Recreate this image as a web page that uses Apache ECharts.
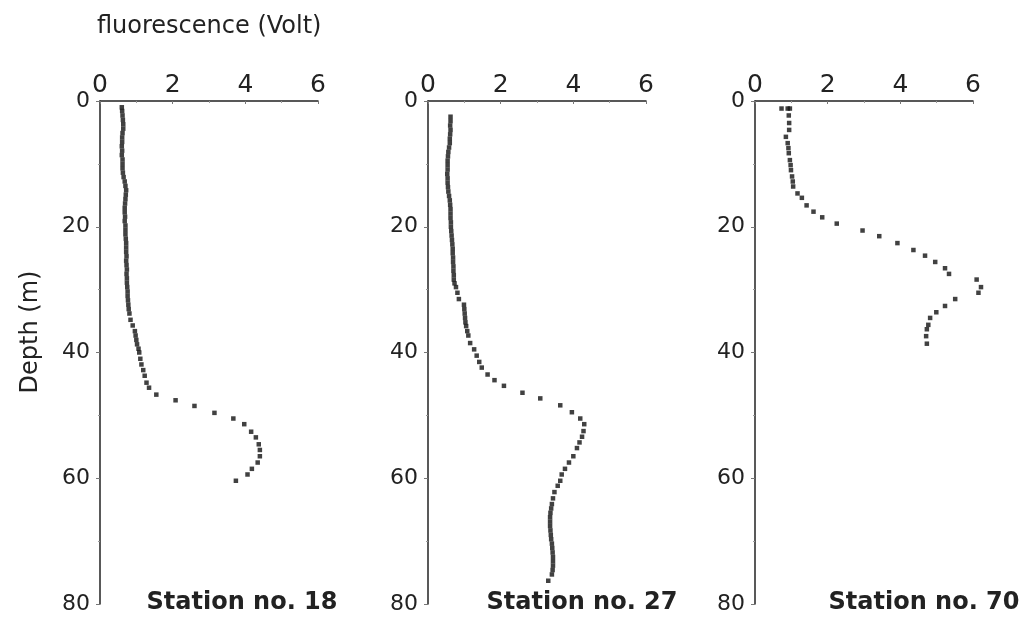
<!DOCTYPE html>
<html>
<head>
<meta charset="utf-8">
<script src="https://cdn.jsdelivr.net/npm/echarts@6/dist/echarts.min.js"></script>
<style>
    html, body { margin: 0; padding: 0; background: #fff; }
    #chart { width: 1023px; height: 629px; }
</style>
</head>
<body>
<div id="chart"></div>
<script>
// [fluorescence (V), depth (m)]
const station18 = [
    [0.60, 1.0], [0.61, 1.6], [0.62, 2.3], [0.63, 3.0], [0.64, 3.7], [0.64, 4.4], [0.62, 5.1], [0.61, 5.8],
    [0.61, 6.5], [0.60, 7.2], [0.61, 7.9], [0.60, 8.6], [0.62, 9.3], [0.62, 10.0], [0.62, 10.7], [0.63, 11.4],
    [0.65, 12.1], [0.68, 12.8], [0.70, 13.5], [0.72, 14.2], [0.71, 14.9], [0.70, 15.6], [0.69, 16.3], [0.68, 17.0],
    [0.68, 17.7], [0.69, 18.4], [0.68, 19.1], [0.70, 19.8], [0.70, 20.5], [0.70, 21.2], [0.71, 21.9], [0.72, 22.6],
    [0.72, 23.3], [0.72, 24.0], [0.73, 24.7], [0.72, 25.4], [0.73, 26.1], [0.74, 26.8], [0.73, 27.5], [0.74, 28.2],
    [0.74, 28.9], [0.75, 29.6], [0.76, 30.3], [0.76, 31.0], [0.77, 31.7], [0.78, 32.4], [0.79, 33.1], [0.81, 33.8],
    [0.84, 34.8], [0.90, 35.7], [0.96, 36.6], [0.98, 37.3], [1.00, 38.0], [1.02, 38.7], [1.06, 39.4], [1.08, 40.0],
    [1.11, 41.0], [1.14, 41.9], [1.19, 42.8], [1.23, 43.7], [1.28, 44.8], [1.35, 45.6], [1.55, 46.7], [2.08, 47.6],
    [2.60, 48.5], [3.15, 49.6], [3.67, 50.5], [3.97, 51.4], [4.16, 52.6], [4.29, 53.5], [4.37, 54.6], [4.40, 55.5],
    [4.40, 56.5], [4.34, 57.5], [4.18, 58.5], [4.06, 59.4], [3.74, 60.4]
];
const station27 = [
    [0.62, 2.5], [0.62, 3.2], [0.61, 3.9], [0.62, 4.6], [0.61, 5.3], [0.60, 6.0], [0.60, 6.7], [0.58, 7.4],
    [0.56, 8.1], [0.55, 8.8], [0.54, 9.5], [0.54, 10.2], [0.54, 10.9], [0.53, 11.6], [0.54, 12.3], [0.54, 13.0],
    [0.55, 13.7], [0.56, 14.4], [0.58, 15.1], [0.60, 15.8], [0.61, 16.5], [0.62, 17.2], [0.62, 17.9], [0.62, 18.6],
    [0.63, 19.3], [0.63, 20.0], [0.64, 20.7], [0.65, 21.4], [0.66, 22.1], [0.67, 22.8], [0.68, 23.5], [0.68, 24.2],
    [0.69, 24.9], [0.69, 25.6], [0.70, 26.3], [0.70, 27.0], [0.71, 27.7], [0.71, 28.4], [0.73, 29.0], [0.77, 29.6],
    [0.81, 30.5], [0.85, 31.5], [0.99, 32.4], [1.00, 33.1], [1.01, 33.8], [1.02, 34.5], [1.03, 35.2], [1.05, 35.8],
    [1.08, 36.6], [1.11, 37.3], [1.16, 38.5], [1.27, 39.5], [1.34, 40.5], [1.41, 41.5], [1.48, 42.4], [1.64, 43.5],
    [1.83, 44.4], [2.09, 45.3], [2.60, 46.4], [3.09, 47.3], [3.64, 48.4], [3.96, 49.5], [4.19, 50.5], [4.30, 51.4],
    [4.28, 52.5], [4.24, 53.4], [4.17, 54.3], [4.10, 55.2], [4.00, 56.5], [3.88, 57.5], [3.77, 58.5], [3.68, 59.4],
    [3.64, 60.4], [3.57, 61.2], [3.48, 62.2], [3.44, 63.2], [3.41, 64.1], [3.39, 64.8], [3.37, 65.5], [3.36, 66.2],
    [3.36, 66.9], [3.36, 67.6], [3.37, 68.3], [3.38, 69.0], [3.39, 69.7], [3.41, 70.4], [3.42, 71.1], [3.43, 71.8],
    [3.44, 72.5], [3.44, 73.2], [3.44, 73.9], [3.43, 74.6], [3.41, 75.3], [3.31, 76.3]
];
const station70 = [
    [0.73, 1.2], [0.90, 1.2], [0.96, 1.2], [0.93, 2.3], [0.94, 3.5], [0.94, 4.6], [0.85, 5.7], [0.90, 6.7],
    [0.92, 7.5], [0.93, 8.3], [0.96, 9.4], [0.98, 10.2], [0.99, 11.0], [1.02, 12.0], [1.04, 12.8], [1.05, 13.6],
    [1.17, 14.7], [1.29, 15.4], [1.42, 16.6], [1.61, 17.6], [1.85, 18.5], [2.25, 19.5], [2.96, 20.6], [3.42, 21.5],
    [3.92, 22.6], [4.36, 23.7], [4.68, 24.6], [4.96, 25.6], [5.23, 26.6], [5.34, 27.5], [6.10, 28.4], [6.22, 29.6],
    [6.15, 30.5], [5.51, 31.5], [5.23, 32.6], [4.99, 33.6], [4.82, 34.5], [4.77, 35.6], [4.73, 36.3], [4.71, 37.4],
    [4.73, 38.6]
];
const stations = ['Station no. 18', 'Station no. 27', 'Station no. 70'];
const fluorTicks = [0, 2, 4, 6];
const depthTicks = [0, 20, 40, 60, 80];

const seriesData = [station18, station27, station70];
const gridLefts = [100, 428, 755];
const titleCenters = [242, 582, 924];
const font = '"DejaVu Sans", Verdana, sans-serif';

let chart = echarts.init(document.getElementById('chart'));

chart.setOption({
    animation: false,
    backgroundColor: '#fff',
    grid: gridLefts.map(l => ({left: l, top: 101, width: 218, height: 503})),
    xAxis: gridLefts.map((l, i) => ({
        type: 'value',
        gridIndex: i,
        position: 'top',
        min: fluorTicks[0],
        max: fluorTicks[fluorTicks.length - 1],
        interval: fluorTicks[1] - fluorTicks[0],
        axisLine: {show: true, onZero: false, lineStyle: {color: '#222', width: 1.5}},
        axisTick: {show: true, inside: true, length: 3, lineStyle: {color: '#777'}},
        minorTick: {show: true, splitNumber: 2, length: 2, lineStyle: {color: '#999'}},
        axisLabel: {fontSize: 25, margin: 3, color: '#222', fontFamily: font},
        splitLine: {show: false}
    })),
    yAxis: gridLefts.map((l, i) => ({
        type: 'value',
        gridIndex: i,
        inverse: true,
        min: depthTicks[0],
        max: depthTicks[depthTicks.length - 1],
        interval: depthTicks[1] - depthTicks[0],
        axisLine: {show: true, onZero: false, lineStyle: {color: '#222', width: 1.5}},
        axisTick: {show: true, length: 4, lineStyle: {color: '#777'}},
        minorTick: {show: true, splitNumber: 2, length: 2, lineStyle: {color: '#999'}},
        axisLabel: {fontSize: 22, margin: 10, color: '#222', fontFamily: font},
        splitLine: {show: false}
    })),
    series: seriesData.map((d, i) => ({
        type: 'scatter',
        xAxisIndex: i,
        yAxisIndex: i,
        data: d,
        symbol: 'rect',
        symbolSize: 4.5,
        clip: false,
        silent: true,
        itemStyle: {color: '#111'}
    })),
    graphic: [
        {
            type: 'text', x: 97, y: 27,
            style: {text: 'fluorescence (Volt)', font: '24px ' + font, fill: '#222', textAlign: 'left', textVerticalAlign: 'middle'}
        },
        {
            type: 'text', x: 31, y: 332, rotation: Math.PI / 2,
            style: {text: 'Depth (m)', font: '24px ' + font, fill: '#222', textAlign: 'center', textVerticalAlign: 'middle'}
        }
    ].concat(stations.map((s, i) => ({
        type: 'text', x: titleCenters[i], y: 603,
        style: {text: s, font: 'bold 24px ' + font, fill: '#222', textAlign: 'center', textVerticalAlign: 'middle'}
    })))
});
</script>
</body>
</html>
